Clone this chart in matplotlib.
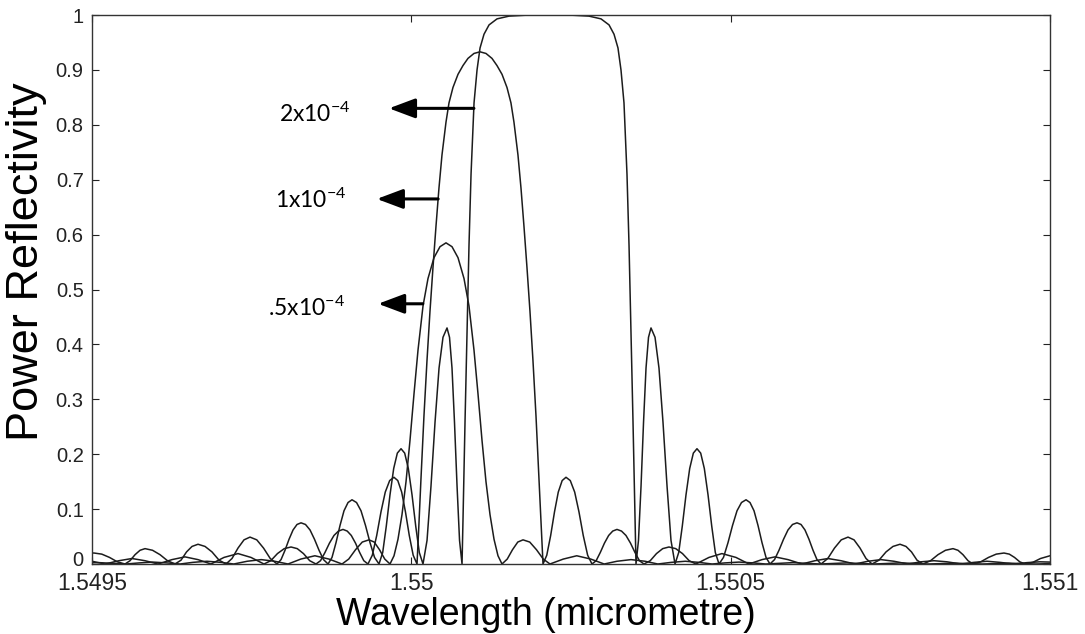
import matplotlib.pyplot as plt
from matplotlib.transforms import ScaledTranslation

# reflectivity spectra, one list pair per index modulation
# strong grating (2x10^-4): flat-topped band
wl_a = [1.5495000, 1.5495032, 1.5495153, 1.5495274, 1.5495396, 1.5495517, 1.5495595, 1.5495674, 1.5495752, 1.5495830,
        1.5495948, 1.5496065, 1.5496182, 1.5496300, 1.5496394, 1.5496480, 1.5496566, 1.5496660, 1.5496770, 1.5496879,
        1.5496989, 1.5497098, 1.5497192, 1.5497286, 1.5497380, 1.5497474, 1.5497580, 1.5497686, 1.5497791, 1.5497897,
        1.5497960, 1.5498022, 1.5498085, 1.5498148, 1.5498210, 1.5498273, 1.5498343, 1.5498414, 1.5498484, 1.5498555,
        1.5498625, 1.5498696, 1.5498758, 1.5498821, 1.5498883, 1.5498946, 1.5499009, 1.5499071, 1.5499142, 1.5499212,
        1.5499283, 1.5499353, 1.5499424, 1.5499494, 1.5499552, 1.5499608, 1.5499666, 1.5499724, 1.5499781, 1.5499839,
        1.5499896, 1.5499953, 1.5500011, 1.5500069, 1.5500125, 1.5500183, 1.5500246, 1.5500308, 1.5500371, 1.5500434,
        1.5500496, 1.5500559, 1.5500598, 1.5500637, 1.5500676, 1.5500716, 1.5500755, 1.5500794, 1.5500809, 1.5500841,
        1.5500872, 1.5500903, 1.5500935, 1.5500982, 1.5501029, 1.5501076, 1.5501138, 1.5501217, 1.5501342, 1.5501530,
        1.5501843, 1.5502156, 1.5502469, 1.5502782, 1.5502970, 1.5503096, 1.5503174, 1.5503236, 1.5503283, 1.5503330,
        1.5503377, 1.5503409, 1.5503440, 1.5503471, 1.5503503, 1.5503518, 1.5503557, 1.5503597, 1.5503636, 1.5503675,
        1.5503714, 1.5503753, 1.5503816, 1.5503878, 1.5503941, 1.5504004, 1.5504066, 1.5504129, 1.5504187, 1.5504243,
        1.5504301, 1.5504359, 1.5504416, 1.5504473, 1.5504531, 1.5504588, 1.5504646, 1.5504704, 1.5504760, 1.5504818,
        1.5504888, 1.5504959, 1.5505029, 1.5505100, 1.5505170, 1.5505241, 1.5505303, 1.5505366, 1.5505429, 1.5505491,
        1.5505554, 1.5505616, 1.5505687, 1.5505757, 1.5505828, 1.5505898, 1.5505969, 1.5506039, 1.5506102, 1.5506164,
        1.5506227, 1.5506290, 1.5506352, 1.5506415, 1.5506521, 1.5506626, 1.5506732, 1.5506838, 1.5506932, 1.5507026,
        1.5507120, 1.5507214, 1.5507323, 1.5507433, 1.5507542, 1.5507652, 1.5507746, 1.5507832, 1.5507918, 1.5508012,
        1.5508130, 1.5508247, 1.5508364, 1.5508482, 1.5508560, 1.5508638, 1.5508717, 1.5508795, 1.5508916, 1.5509038,
        1.5509159, 1.5509280, 1.5509363, 1.5509445, 1.5509527, 1.5509609, 1.5509731, 1.5509852, 1.5509973, 1.5510000]
r_a = [0.020, 0.020, 0.018, 0.012, 0.004, 0.0, 0.006, 0.017, 0.025, 0.028,
       0.025, 0.017, 0.006, 0.0, 0.007, 0.022, 0.032, 0.036, 0.032, 0.022,
       0.007, 0.0, 0.010, 0.029, 0.044, 0.049, 0.044, 0.029, 0.010, 0.0,
       0.008, 0.025, 0.045, 0.062, 0.072, 0.075, 0.072, 0.062, 0.045, 0.025,
       0.008, 0.0, 0.012, 0.039, 0.070, 0.097, 0.112, 0.117, 0.112, 0.097,
       0.070, 0.039, 0.012, 0.0, 0.021, 0.069, 0.126, 0.174, 0.202, 0.210,
       0.202, 0.174, 0.126, 0.069, 0.021, 0.0, 0.043, 0.142, 0.258, 0.357,
       0.413, 0.430, 0.413, 0.357, 0.258, 0.142, 0.043, 0.0, 0.080, 0.260,
       0.420, 0.580, 0.710, 0.840, 0.900, 0.940, 0.965, 0.982, 0.993, 0.998,
       1.000, 1.000, 1.000, 0.998, 0.993, 0.982, 0.965, 0.940, 0.900, 0.840,
       0.710, 0.580, 0.420, 0.260, 0.080, 0.0, 0.043, 0.142, 0.258, 0.357,
       0.413, 0.430, 0.413, 0.357, 0.258, 0.142, 0.043, 0.0, 0.021, 0.069,
       0.126, 0.174, 0.202, 0.210, 0.202, 0.174, 0.126, 0.069, 0.021, 0.0,
       0.012, 0.039, 0.070, 0.097, 0.112, 0.117, 0.112, 0.097, 0.070, 0.039,
       0.012, 0.0, 0.008, 0.025, 0.045, 0.062, 0.072, 0.075, 0.072, 0.062,
       0.045, 0.025, 0.008, 0.0, 0.010, 0.029, 0.044, 0.049, 0.044, 0.029,
       0.010, 0.0, 0.007, 0.022, 0.032, 0.036, 0.032, 0.022, 0.007, 0.0,
       0.006, 0.017, 0.025, 0.028, 0.025, 0.017, 0.006, 0.0, 0.004, 0.012,
       0.018, 0.020, 0.018, 0.012, 0.004, 0.0, 0.003, 0.010, 0.014, 0.015]

# 1x10^-4
wl_b = [1.5495000, 1.5495203, 1.5495422, 1.5495626, 1.5495830, 1.5496033, 1.5496252, 1.5496456, 1.5496659, 1.5496863,
        1.5497067, 1.5497286, 1.5497489, 1.5497693, 1.5497799, 1.5497904, 1.5498010, 1.5498116, 1.5498214, 1.5498311,
        1.5498409, 1.5498507, 1.5498578, 1.5498648, 1.5498718, 1.5498789, 1.5498859, 1.5498930, 1.5498996, 1.5499060,
        1.5499126, 1.5499191, 1.5499256, 1.5499321, 1.5499389, 1.5499458, 1.5499525, 1.5499592, 1.5499661, 1.5499728,
        1.5499788, 1.5499849, 1.5499908, 1.5499968, 1.5500029, 1.5500089, 1.5500120, 1.5500151, 1.5500198, 1.5500245,
        1.5500292, 1.5500339, 1.5500386, 1.5500433, 1.5500480, 1.5500543, 1.5500590, 1.5500652, 1.5500731, 1.5500809,
        1.5500887, 1.5500981, 1.5501075, 1.5501169, 1.5501263, 1.5501341, 1.5501420, 1.5501498, 1.5501560, 1.5501607,
        1.5501670, 1.5501717, 1.5501764, 1.5501811, 1.5501858, 1.5501905, 1.5501952, 1.5501999, 1.5502030, 1.5502062,
        1.5502121, 1.5502182, 1.5502242, 1.5502301, 1.5502362, 1.5502422, 1.5502489, 1.5502558, 1.5502625, 1.5502692,
        1.5502761, 1.5502829, 1.5502894, 1.5502959, 1.5503024, 1.5503090, 1.5503154, 1.5503220, 1.5503291, 1.5503361,
        1.5503432, 1.5503502, 1.5503572, 1.5503643, 1.5503741, 1.5503839, 1.5503936, 1.5504034, 1.5504140, 1.5504246,
        1.5504351, 1.5504457, 1.5504661, 1.5504864, 1.5505083, 1.5505287, 1.5505491, 1.5505694, 1.5505898, 1.5506117,
        1.5506320, 1.5506524, 1.5506728, 1.5506947, 1.5507150, 1.5507354, 1.5507557, 1.5507777, 1.5507980, 1.5508184,
        1.5508387, 1.5508606, 1.5508810, 1.5509014, 1.5509217, 1.5509436, 1.5509640, 1.5509843, 1.5510000]
r_b = [0.005, 0.0, 0.006, 0.010, 0.006, 0.0, 0.008, 0.013, 0.008, 0.0,
       0.012, 0.019, 0.012, 0.0, 0.006, 0.019, 0.028, 0.031, 0.028, 0.019,
       0.006, 0.0, 0.006, 0.021, 0.038, 0.052, 0.060, 0.063, 0.060, 0.052,
       0.038, 0.021, 0.006, 0.0, 0.016, 0.052, 0.095, 0.131, 0.152, 0.158,
       0.152, 0.131, 0.095, 0.052, 0.016, 0.0, 0.075, 0.155, 0.270, 0.370,
       0.460, 0.540, 0.615, 0.685, 0.745, 0.805, 0.840, 0.868, 0.892, 0.908,
       0.921, 0.930, 0.933, 0.930, 0.921, 0.908, 0.892, 0.868, 0.840, 0.805,
       0.745, 0.685, 0.615, 0.540, 0.460, 0.370, 0.270, 0.155, 0.075, 0.0,
       0.016, 0.052, 0.095, 0.131, 0.152, 0.158, 0.152, 0.131, 0.095, 0.052,
       0.016, 0.0, 0.006, 0.021, 0.038, 0.052, 0.060, 0.063, 0.060, 0.052,
       0.038, 0.021, 0.006, 0.0, 0.006, 0.019, 0.028, 0.031, 0.028, 0.019,
       0.006, 0.0, 0.012, 0.019, 0.012, 0.0, 0.008, 0.013, 0.008, 0.0,
       0.006, 0.010, 0.006, 0.0, 0.005, 0.008, 0.005, 0.0, 0.004, 0.006,
       0.004, 0.0, 0.003, 0.005, 0.003, 0.0, 0.0025, 0.004, 0.0035]

# .5x10^-4
wl_c = [1.5495000, 1.5495110, 1.5495530, 1.5495740, 1.5495950, 1.5496170, 1.5496380, 1.5496580, 1.5496800, 1.5497020,
        1.5497220, 1.5497430, 1.5497650, 1.5497860, 1.5498070, 1.5498270, 1.5498490, 1.5498710, 1.5498915, 1.5499020,
        1.5499126, 1.5499232, 1.5499337, 1.5499419, 1.5499502, 1.5499584, 1.5499666, 1.5499729, 1.5499791, 1.5499854,
        1.5499917, 1.5499979, 1.5500042, 1.5500105, 1.5500183, 1.5500261, 1.5500355, 1.5500449, 1.5500543, 1.5500637,
        1.5500731, 1.5500825, 1.5500903, 1.5500981, 1.5501044, 1.5501107, 1.5501169, 1.5501232, 1.5501295, 1.5501357,
        1.5501420, 1.5501502, 1.5501584, 1.5501667, 1.5501749, 1.5501854, 1.5501960, 1.5502066, 1.5502171, 1.5502380,
        1.5502590, 1.5502810, 1.5503020, 1.5503220, 1.5503440, 1.5503660, 1.5503860, 1.5504070, 1.5504290, 1.5504500,
        1.5504710, 1.5504910, 1.5505130, 1.5505350, 1.5505550, 1.5505980, 1.5506400, 1.5506820, 1.5507240, 1.5507670,
        1.5508090, 1.5508510, 1.5508940, 1.5509360, 1.5509780, 1.5510000]
r_c = [0.0024, 0.0025, 0.0, 0.002, 0.0035, 0.002, 0.0, 0.003, 0.005, 0.003,
       0.0, 0.005, 0.008, 0.005, 0.0, 0.009, 0.015, 0.009, 0.0, 0.009,
       0.026, 0.040, 0.044, 0.040, 0.026, 0.009, 0.0, 0.015, 0.045, 0.090,
       0.150, 0.225, 0.310, 0.390, 0.470, 0.520, 0.558, 0.578, 0.585, 0.578,
       0.558, 0.520, 0.470, 0.390, 0.310, 0.225, 0.150, 0.090, 0.045, 0.015,
       0.0, 0.009, 0.026, 0.040, 0.044, 0.040, 0.026, 0.009, 0.0, 0.009,
       0.015, 0.009, 0.0, 0.005, 0.008, 0.005, 0.0, 0.003, 0.005, 0.003,
       0.0, 0.002, 0.0035, 0.002, 0.0, 0.0025, 0.0, 0.002, 0.0, 0.002,
       0.0, 0.0015, 0.0, 0.0015, 0.0, 0.0007]

x_ticks = [1.5495, 1.55, 1.5505, 1.551]
x_tick_labels = ['1.5495', '1.55', '1.5505', '1.551']
y_ticks = [0, 0.1, 0.2, 0.3, 0.4, 0.5, 0.6, 0.7, 0.8, 0.9, 1]
y_tick_labels = ['0', '0.1', '0.2', '0.3', '0.4', '0.5', '0.6', '0.7', '0.8', '0.9', '1']

labels = [r'2x10$^{-4}$', r'1x10$^{-4}$', r'.5x10$^{-4}$']

plt.rcParams['font.family'] = ['Liberation Sans', 'DejaVu Sans']
plt.rcParams['mathtext.fontset'] = 'custom'
plt.rcParams['mathtext.rm'] = 'Lato'
plt.rcParams['mathtext.default'] = 'rm'

fig = plt.figure(figsize=(10.85, 6.34), dpi=100)
ax = fig.add_axes([0.0848, 0.1104, 0.8829, 0.8659])

for wl, r in [(wl_a, r_a), (wl_b, r_b), (wl_c, r_c)]:
    ax.plot(wl, r, color='#1c1c1c', lw=1.1)

ax.set_xlim(1.5495, 1.551)
ax.set_ylim(0, 1)
ax.set_xticks(x_ticks)
ax.set_xticklabels(x_tick_labels)
ax.set_yticks(y_ticks)
ax.set_yticklabels(y_tick_labels)
ax.tick_params(direction='in', top=True, right=True, length=5, width=0.8, colors='#222222')
ax.tick_params(axis='x', labelsize=16.5, pad=6)
ax.tick_params(axis='y', labelsize=14.5, pad=6)
for s in ax.spines.values():
    s.set_linewidth(1.0)
    s.set_color('#333333')

# lift the "0" a little so it clears 1.5495
lab0 = ax.get_yticklabels()[0]
lab0.set_transform(lab0.get_transform() + ScaledTranslation(0, 4 / 72, fig.dpi_scale_trans))

ax.set_xlabel('Wavelength (micrometre)', fontsize=27)
ax.xaxis.set_label_coords(0.474, -0.060)
ax.set_ylabel('Power Reflectivity', fontsize=32.5)
ax.yaxis.set_label_coords(-0.047, 0.55)

# arrows + labels (head, tail, height, text anchor)
arrows = [(1.549965, 1.550098, 0.830, 1.549905, 0.805),
          (1.549946, 1.550042, 0.665, 1.549899, 0.648),
          (1.549948, 1.550018, 0.474, 1.549896, 0.452)]
for (head, tail, y, tx, ty), lab in zip(arrows, labels):
    ax.annotate('', xy=(head, y), xytext=(tail, y),
                arrowprops=dict(arrowstyle='-|>,head_length=0.8,head_width=0.3',
                                color='black', lw=2.2, mutation_scale=20,
                                shrinkA=0, shrinkB=0))
    ax.text(tx, ty, lab, fontsize=16.5, family='Lato', ha='right', va='baseline')

fig.savefig('out.png', dpi=100)
